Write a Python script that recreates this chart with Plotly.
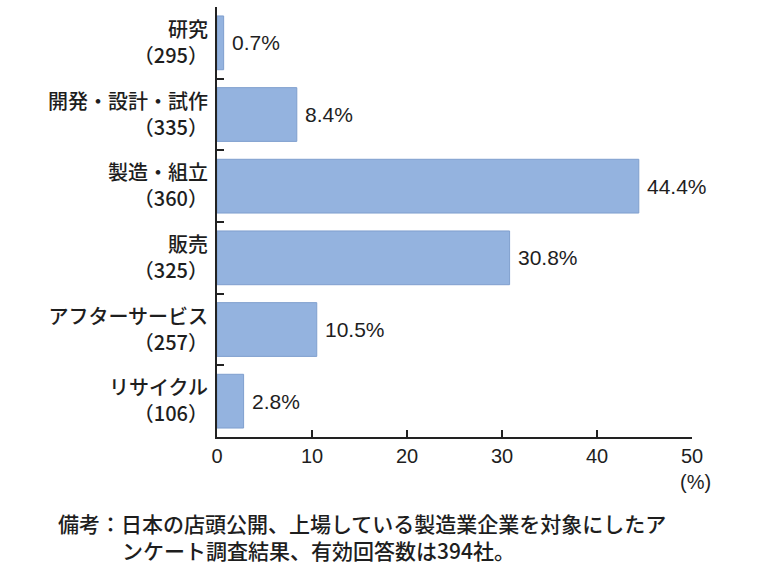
import plotly.graph_objects as go

categories = ["研究", "開発・設計・試作", "製造・組立", "販売", "アフターサービス", "リサイクル"]
counts = [295, 335, 360, 325, 257, 106]
values = [0.7, 8.4, 44.4, 30.8, 10.5, 2.8]
x_ticks = [0, 10, 20, 30, 40, 50]
note_line1 = "備考：日本の店頭公開、上場している製造業企業を対象にしたア"
note_line2 = "ンケート調査結果、有効回答数は394社。"

labels = [f"{c}<br>（{n}）" for c, n in zip(categories, counts)]

W, H = 777, 583
L, R, T, B = 217, 85, 7, 146
pw, ph = W - L - R, H - T - B

def px(x):
    return (x - L) / pw

def py(y):
    return (H - B - y) / ph

CJK = "Noto Sans CJK JP, Liberation Sans, sans-serif"
NUM = "Liberation Sans, Arial, sans-serif"
TXT = "#1e1e1e"

fig = go.Figure()
fig.add_trace(go.Bar(
    x=values, y=labels, orientation="h",
    marker=dict(color="#94B3DF", line=dict(color="#7F9FCE", width=1)),
    hoverinfo="skip",
))

for v, lab in zip(values, labels):
    fig.add_annotation(x=v, y=lab, xref="x", yref="y", text=f"{v}%",
                       showarrow=False, xanchor="left", xshift=6,
                       font=dict(family=NUM, size=21, color=TXT))

fig.add_annotation(x=px(695), y=py(482), xref="paper", yref="paper", text="(%)",
                   showarrow=False, xanchor="center", yanchor="middle",
                   font=dict(family=NUM, size=20, color=TXT))
fig.add_annotation(x=px(56), y=py(523), xref="paper", yref="paper", text=note_line1,
                   showarrow=False, xanchor="left", yanchor="middle",
                   font=dict(family=CJK, size=21, color=TXT, weight=500))
fig.add_annotation(x=px(120), y=py(550), xref="paper", yref="paper", text=note_line2,
                   showarrow=False, xanchor="left", yanchor="middle",
                   font=dict(family=CJK, size=21, color=TXT, weight=500))

fig.update_layout(
    width=W, height=H,
    margin=dict(l=L, r=R, t=T, b=B, pad=0),
    paper_bgcolor="white", plot_bgcolor="white",
    bargap=0.25, showlegend=False,
    xaxis=dict(range=[0, 50], tickvals=x_ticks, ticks="inside", ticklen=7,
               tickwidth=2, tickcolor="#222", showline=True, linecolor="#222",
               linewidth=2, showgrid=False, zeroline=False,
               tickfont=dict(family=NUM, size=20, color=TXT)),
    yaxis=dict(autorange="reversed", type="category", tickson="boundaries",
               ticks="inside", ticklen=7, tickwidth=2, tickcolor="#222",
               showline=True, linecolor="#222", linewidth=2, showgrid=False,
               ticklabelstandoff=3,
               tickfont=dict(family=CJK, size=20, color=TXT, weight=500)),
)

fig.write_html("out.html")
